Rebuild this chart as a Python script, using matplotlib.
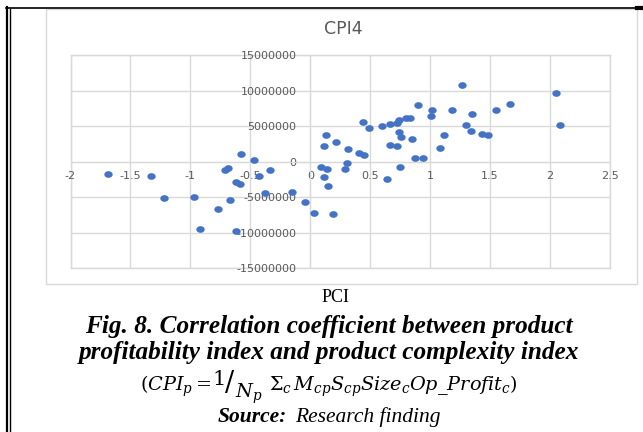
import numpy as np
import matplotlib
matplotlib.use("Agg")
import matplotlib.pyplot as plt
from matplotlib.path import Path
from matplotlib.patches import Rectangle
from matplotlib.lines import Line2D
from matplotlib.ticker import FuncFormatter

# values (PCI vs CPI4)
pci = [-1.687, -1.331, -1.218, -0.969, -0.924, -0.767, -0.715, -0.688, -0.671, -0.623,
       -0.616, -0.585, -0.575, -0.469, -0.431, -0.380, -0.339, -0.154, -0.044, 0.031,
       0.089, 0.113, 0.116, 0.133, 0.137, 0.147, 0.188, 0.212, 0.287, 0.305,
       0.311, 0.407, 0.452, 0.441, 0.489, 0.599, 0.664, 0.640, 0.664, 0.726,
       0.726, 0.743, 0.736, 0.746, 0.760, 0.801, 0.832, 0.852, 0.873, 0.938,
       0.897, 1.006, 1.013, 1.078, 1.119, 1.181, 1.263, 1.297, 1.338, 1.345,
       1.434, 1.482, 1.547, 1.663, 2.050, 2.084]
cpi4 = [-1780000, -1970000, -5070000, -4980000, -9440000, -6620000, -1130000, -850000, -5400000, -9810000,
        -2820000, -3100000, 1130000, 230000, -2020000, -4370000, -1130000, -4270000, -5680000, -7230000,
        -700000, 2160000, -2210000, 3710000, -1030000, -3430000, -7370000, 2820000, -1030000, -230000,
        1740000, 1220000, 990000, 5590000, 4690000, 5020000, 5350000, -2440000, 2350000, 2250000,
        5400000, 5920000, 4230000, -800000, 3470000, 6150000, 6200000, 3190000, 520000, 560000,
        7930000, 6480000, 7320000, 1970000, 3710000, 7230000, 10850000, 5210000, 4370000, 6710000,
        3900000, 3800000, 7230000, 8080000, 9720000, 5210000]

x_ticks = [-2, -1.5, -1, -0.5, 0, 0.5, 1, 1.5, 2, 2.5]
y_ticks = [-15000000, -10000000, -5000000, 0, 5000000, 10000000, 15000000]

W, H = 643, 432
fig = plt.figure(figsize=(W / 100, H / 100), dpi=100)

def fx(px):
    return px / W

def fy(py):
    return 1 - py / H

# page borders (double line on the left, single on top)
fig.add_artist(Line2D([fx(7), fx(7)], [0, fy(7)], color="black", lw=1.6))
fig.add_artist(Line2D([fx(10), fx(10)], [0, fy(9)], color="black", lw=1.0))
fig.add_artist(Line2D([fx(6), fx(638)], [fy(8), fy(8)], color="black", lw=1.2))
fig.add_artist(Line2D([fx(637), fx(643)], [fy(8), fy(8)], color="black", lw=3))

# excel chart area
fig.add_artist(Rectangle((fx(46), fy(283.5)), (637 - 46) / W, (283.5 - 9) / H,
                         facecolor="none", edgecolor="#d9d9d9", lw=1.0))

ax = fig.add_axes([fx(70.5), fy(268), (610 - 70.5) / W, (268 - 55.3) / H])
ax.set_facecolor("none")

# slightly flattened round marker, like the stretched excel dots
t = np.linspace(0, 2 * np.pi, 60)
ell = Path(np.column_stack([np.cos(t), 0.8 * np.sin(t)]), closed=True)
ax.scatter(pci, cpi4, s=36, marker=ell, color="#4472C4", linewidths=0, zorder=4)

ax.set_xlim(-2, 2.5)
ax.set_ylim(-15000000, 15000000)
ax.set_xticks(x_ticks)
ax.set_yticks(y_ticks)
ax.xaxis.set_major_formatter(FuncFormatter(lambda v, p: "%g" % v))
ax.yaxis.set_major_formatter(FuncFormatter(lambda v, p: "%d" % v))

grid_c = "#d9d9d9"
ax.grid(True, color=grid_c, lw=1.0)
ax.set_axisbelow(True)
for s in ["top", "right"]:
    ax.spines[s].set_visible(False)
ax.spines["left"].set_position(("data", 0))
ax.spines["bottom"].set_position(("data", 0))
ax.spines["left"].set_color(grid_c)
ax.spines["bottom"].set_color(grid_c)
for xv in [-2, 2.5]:
    ax.axvline(xv, color=grid_c, lw=1.0, clip_on=False, zorder=0.5)
for yv in [-15000000, 15000000]:
    ax.axhline(yv, color=grid_c, lw=1.0, clip_on=False, zorder=0.5)

ax.tick_params(length=0, colors="#595959", labelsize=8)
ax.tick_params(axis="y", pad=10)
ax.tick_params(axis="x", pad=7)
for lab in ax.get_xticklabels() + ax.get_yticklabels():
    lab.set_family("DejaVu Sans")

fig.text(fx(343.5), fy(29), "CPI4", ha="center", va="center", fontsize=12.5,
         color="#595959", family="DejaVu Sans")

# caption below the chart
serif = "Liberation Serif"
fig.text(fx(336), fy(297), "PCI", ha="center", va="center", fontsize=13, family=serif)
fig.text(fx(329), fy(333), "Fig. 8. Correlation coefficient between product",
         ha="center", va="baseline", fontsize=18.2, family=serif,
         weight="bold", style="italic")
fig.text(fx(329), fy(359), "profitability index and product complexity index",
         ha="center", va="baseline", fontsize=18.2, family=serif,
         weight="bold", style="italic")

# formula, laid out piece by piece so the "1 / N_p" fraction looks like the original
renderer = fig.canvas.get_renderer()
pieces = [
    (r"$(CPI_p=\ $", 0, 13.9),
    (r"$1$", 6, 15),
    (r"$/$", 0, 19.5),
    (r"$N_p$", -7, 13.9),
    (r"$\ \Sigma_c\, M_{cp}S_{cp}Size_cOp\_Profit_c)$", 0, 13.9),
]
arts = []
for s, dy, fs in pieces:
    arts.append((fig.text(0, 0, s, va="baseline", fontsize=fs, math_fontfamily="dejavuserif"), dy))
widths = [a.get_window_extent(renderer).width for a, _ in arts]
x0 = 329 - sum(widths) / 2
for (a, dy), w in zip(arts, widths):
    a.set_position((fx(x0), fy(391 - dy)))
    x0 += w

fig.text(fx(287), fy(422), "Source:", ha="right", va="baseline", fontsize=15.5,
         family=serif, weight="bold", style="italic")
fig.text(fx(295), fy(422), "Research finding", ha="left", va="baseline", fontsize=15.5,
         family=serif, style="italic")

fig.savefig("out.png", dpi=100)
